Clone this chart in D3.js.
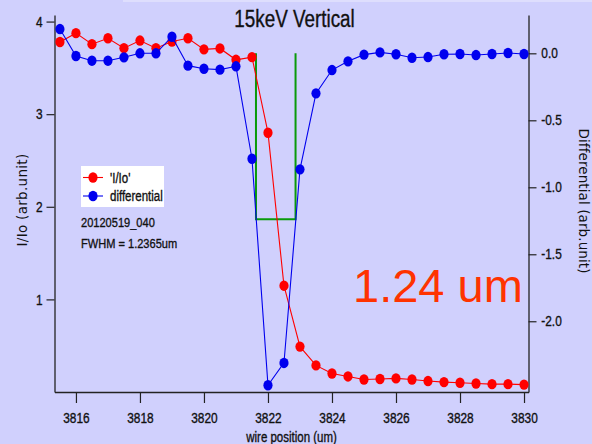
<!DOCTYPE html>
<html>
<head>
<meta charset="utf-8">
<script src="https://cdn.jsdelivr.net/npm/d3@7"></script>
<style>
  html, body { margin: 0; padding: 0; background: #d0d0fd; }
  svg { display: block; }
  .narrow { font-family: "Liberation Sans", Arial, sans-serif; stroke: #111; stroke-width: 0.35px; }
  .wide { font-family: "DejaVu Sans", "Noto Sans", sans-serif; }
</style>
</head>
<body>
<svg id="chart" width="592" height="444"></svg>
<script>
// Wire scan positions (um)
const positions = [
  3815.5, 3816, 3816.5, 3817, 3817.5, 3818, 3818.5, 3819, 3819.5, 3820,
  3820.5, 3821, 3821.5, 3822, 3822.5, 3823, 3823.5, 3824, 3824.5, 3825,
  3825.5, 3826, 3826.5, 3827, 3827.5, 3828, 3828.5, 3829, 3829.5, 3830
];
// Normalised intensity I/Io
const intensity = [
  3.78, 3.875, 3.756, 3.82, 3.713, 3.795, 3.713, 3.785, 3.82, 3.70,
  3.71, 3.587, 3.616, 2.80, 1.148, 0.49, 0.287, 0.20, 0.168, 0.135,
  0.14, 0.147, 0.135, 0.118, 0.107, 0.10, 0.092, 0.085, 0.085, 0.08
];
// Differential of I/Io
const differential = [
  0.181, -0.02, -0.055, -0.055, -0.03, 0.0, 0.0, 0.124, -0.092, -0.115,
  -0.122, -0.097, -0.787, -2.478, -2.311, -0.866, -0.299, -0.125, -0.06, -0.01,
  0.007, -0.007, -0.033, -0.028, -0.007, -0.005, -0.013, -0.005, 0.002, -0.005
];
// FWHM marker: left edge, width and half-maximum level of the differential
const fwhmLeft = 3821.625;
const fwhm = 1.2365;
const fwhmLevel = -1.239;

const xTicks = [3816, 3818, 3820, 3822, 3824, 3826, 3828, 3830];
const leftTicks = [1, 2, 3, 4];
const rightTicks = [0.0, -0.5, -1.0, -1.5, -2.0];

const titleText = "15keV Vertical";
const runLabel = "20120519_040";

const svg = d3.select("#chart");
const W = 592, H = 444;
const plot = { left: 54.5, right: 528.5, top: 15, bottom: 392 };
const SX = 0.82; // horizontal squeeze for the condensed labels

svg.append("rect").attr("width", W).attr("height", H).attr("fill", "#d0d0fd");
svg.append("rect").attr("x", 123).attr("y", 0).attr("width", W - 123).attr("height", 2)
  .attr("fill", "#ffffff").attr("opacity", 0.3);

const x = d3.scaleLinear().domain([3815.33, 3830.14]).range([plot.left, plot.right]);
const yL = d3.scaleLinear().domain([0, 4.071]).range([plot.bottom, plot.top]);
const yR = d3.scaleLinear().domain([-2.528, 0.286]).range([plot.bottom, plot.top]);

const axisColor = "#222";

// Condensed text helper
function narrowText(px, py, size, str, anchor) {
  return svg.append("text").attr("class", "narrow")
    .attr("transform", `translate(${px},${py}) scale(${SX},1)`)
    .attr("text-anchor", anchor || "start")
    .style("font-size", size + "px").attr("fill", "#111").text(str);
}

// Axes
const xAxis = svg.append("g").attr("transform", `translate(0,${plot.bottom})`)
  .call(d3.axisBottom(x).tickValues(xTicks).tickFormat(d3.format("d")).tickSize(11).tickSizeOuter(0).tickPadding(9.5));
const lAxis = svg.append("g").attr("transform", `translate(${plot.left},0)`)
  .call(d3.axisLeft(yL).tickValues(leftTicks).tickFormat(d3.format("d")).tickSize(8).tickSizeOuter(0));
const rAxis = svg.append("g").attr("transform", `translate(${plot.right},0)`)
  .call(d3.axisRight(yR).tickValues(rightTicks).tickFormat(d3.format(".1f")).tickSize(8).tickSizeOuter(0));

[xAxis, lAxis, rAxis].forEach(g => {
  g.select(".domain").attr("stroke", axisColor).attr("stroke-width", 1.3);
  g.selectAll(".tick line").attr("stroke", axisColor).attr("stroke-width", 1.2);
  g.selectAll(".tick text").attr("class", "narrow").attr("fill", "#111")
    .style("font-size", "14.5px");
});
xAxis.selectAll(".tick text").attr("transform", `scale(${SX},1)`);
lAxis.selectAll(".tick text").attr("x", -12 / SX).attr("transform", `scale(${SX},1)`);
rAxis.selectAll(".tick text").attr("x", 12.8 / SX).attr("transform", `scale(${SX},1)`)
  .text(d => d3.format(".1f")(d).replace("−", "-"));

// Axis titles
narrowText((plot.left + plot.right) / 2, 442, 14, "wire position (um)", "middle");
svg.append("text").attr("class", "wide")
  .attr("transform", "translate(27,200) rotate(-90)")
  .attr("text-anchor", "middle").style("font-size", "13.5px").style("letter-spacing", "0.3px")
  .attr("fill", "#111").text("I/Io (arb.unit)");
svg.append("text").attr("class", "wide")
  .attr("transform", "translate(579,201) rotate(90)")
  .attr("text-anchor", "middle").style("font-size", "13.5px").style("letter-spacing", "0.1px")
  .attr("fill", "#111").text("Differential (arb.unit)");

// Title
narrowText(294.5, 26.5, 23, titleText, "middle");

// FWHM box on the differential axis
const fwhmPts = [
  [fwhmLeft, 0], [fwhmLeft, fwhmLevel], [fwhmLeft + fwhm, fwhmLevel], [fwhmLeft + fwhm, 0]
];
svg.append("path")
  .attr("d", d3.line().x(d => x(d[0])).y(d => yR(d[1]))(fwhmPts))
  .attr("fill", "none").attr("stroke", "#0a9a0a").attr("stroke-width", 2);

// Series
const red = "#ff0000", blue = "#0000ee";
const redData = positions.map((p, i) => [p, intensity[i]]);
const blueData = positions.map((p, i) => [p, differential[i]]);

svg.append("path")
  .attr("d", d3.line().x(d => x(d[0])).y(d => yL(d[1]))(redData))
  .attr("fill", "none").attr("stroke", red).attr("stroke-width", 1.1);
svg.append("g").selectAll("ellipse").data(redData).join("ellipse")
  .attr("cx", d => x(d[0])).attr("cy", d => yL(d[1])).attr("rx", 4.6).attr("ry", 5.2)
  .attr("fill", red);

svg.append("path")
  .attr("d", d3.line().x(d => x(d[0])).y(d => yR(d[1]))(blueData))
  .attr("fill", "none").attr("stroke", blue).attr("stroke-width", 1.1);
svg.append("g").selectAll("ellipse").data(blueData).join("ellipse")
  .attr("cx", d => x(d[0])).attr("cy", d => yR(d[1])).attr("rx", 4.6).attr("ry", 5.2)
  .attr("fill", blue);

// Legend
const legend = svg.append("g");
legend.append("rect").attr("x", 81).attr("y", 166).attr("width", 83).attr("height", 41).attr("fill", "#ffffff");
[["'I/Io'", red, 177.5], ["differential", blue, 196]].forEach(([label, color, ly]) => {
  legend.append("line").attr("x1", 83).attr("x2", 103).attr("y1", ly).attr("y2", ly)
    .attr("stroke", color).attr("stroke-width", 1.1);
  legend.append("ellipse").attr("cx", 93).attr("cy", ly).attr("rx", 4.6).attr("ry", 5.2).attr("fill", color);
  narrowText(110, ly + 5, 14, label);
});

// Annotations
narrowText(81, 226.5, 13.5, runLabel);
narrowText(81, 248, 13.5, `FWHM = ${fwhm}um`);

svg.append("text").attr("x", 353).attr("y", 301.5)
  .style("font-family", "'Liberation Sans', Arial, sans-serif").style("font-size", "47px")
  .attr("fill", "#ff3300").text(`${d3.format(".2f")(fwhm)} um`);
</script>
</body>
</html>
